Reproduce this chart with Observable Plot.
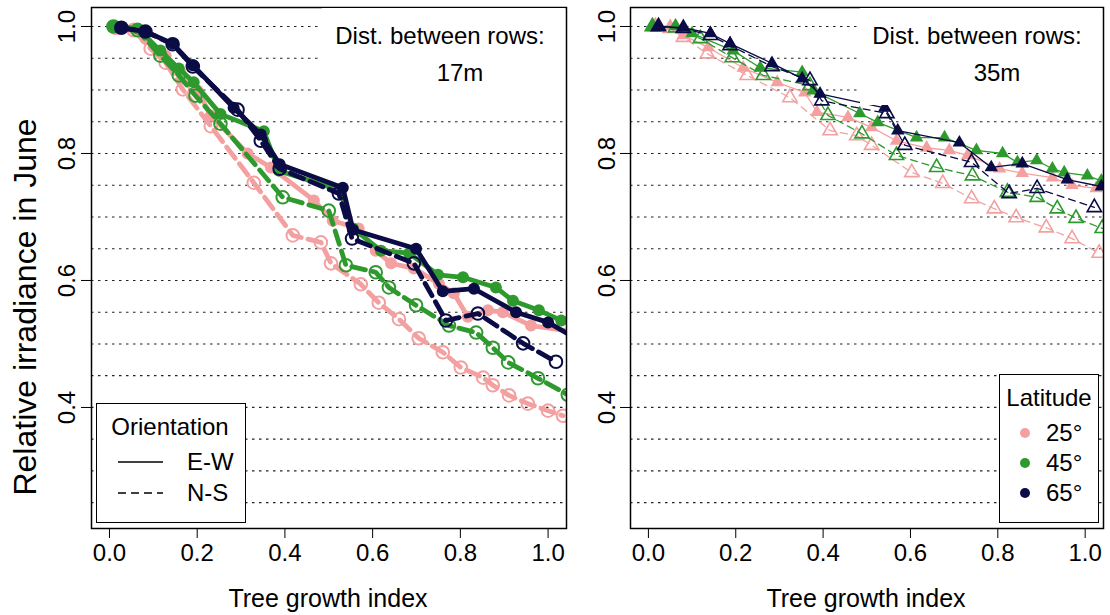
<!DOCTYPE html>
<html>
<head>
<meta charset="utf-8">
<script src="https://cdn.jsdelivr.net/npm/d3@7"></script>
<script src="https://cdn.jsdelivr.net/npm/@observablehq/plot@0.6"></script>
<style>
  body { margin: 0; background: #fff; }
  #wrap { position: relative; width: 1110px; height: 615px; overflow: hidden; background: #fff;
          font-family: "Liberation Sans", Arial, Helvetica, sans-serif; color: #000; }
  #wrap > svg { position: absolute; top: 0; }
  .t { position: absolute; white-space: nowrap; line-height: 1; transform: translate(-50%, -50%); }
  .tl { position: absolute; white-space: nowrap; line-height: 1; transform: translate(0, -50%); }
  .white { position: absolute; background: #fff; }
  .legend { position: absolute; background: #fff; border: 1.5px solid #000; box-sizing: border-box; }
  g[aria-label^="x-axis"] line, g[aria-label^="y-axis"] line { stroke-width: 1.5; }
</style>
</head>
<body>
<div id="wrap"></div>
<script>
// ---------- data ----------
const LATITUDES = [25, 45, 65];
const LAT_LABELS = ["25°", "45°", "65°"];
const LAT_COLORS = ["#f4a0a0", "#2e9a2e", "#0b0b45"];
const ORIENTATIONS = ["E-W", "N-S"];
const PANELS = ["17m", "35m"];
const X_TICKS = [0, 0.2, 0.4, 0.6, 0.8, 1.0];
const Y_TICKS = [0.4, 0.6, 0.8, 1.0];
const GRID_VALUES = [0.25, 0.30, 0.35, 0.40, 0.45, 0.50, 0.55, 0.60, 0.65, 0.70, 0.75, 0.80, 0.85, 0.90, 0.95, 1.00];

// 17 m between rows
const d17_25_EW_x = [0.014,0.055,0.082,0.128,0.162,0.201,0.231,0.315,0.368,0.466,0.509,0.568,0.607,0.642,0.694,0.751,0.785,0.817,0.863,0.897,0.961,1.07];
const d17_25_EW_y = [0.998,0.997,0.981,0.954,0.928,0.899,0.860,0.800,0.778,0.726,0.694,0.682,0.647,0.627,0.619,0.595,0.580,0.543,0.553,0.550,0.529,0.518];
const d17_25_NS_x = [0.014,0.055,0.094,0.128,0.167,0.231,0.329,0.418,0.482,0.505,0.573,0.614,0.660,0.705,0.760,0.801,0.852,0.874,0.911,0.954,1.000,1.034];
const d17_25_NS_y = [0.998,0.994,0.965,0.943,0.901,0.843,0.754,0.671,0.660,0.627,0.594,0.565,0.539,0.509,0.487,0.463,0.447,0.435,0.419,0.406,0.395,0.387];
const d17_45_EW_x = [0.009,0.064,0.116,0.158,0.192,0.253,0.352,0.386,0.525,0.555,0.619,0.683,0.749,0.806,0.881,0.920,0.979,1.030];
const d17_45_EW_y = [1.000,0.997,0.962,0.934,0.912,0.862,0.835,0.773,0.742,0.682,0.647,0.643,0.609,0.605,0.589,0.568,0.553,0.537];
const d17_45_NS_x = [0.009,0.064,0.116,0.158,0.196,0.253,0.395,0.500,0.539,0.607,0.637,0.699,0.774,0.836,0.874,0.909,0.977,1.045];
const d17_45_NS_y = [1.000,0.994,0.954,0.923,0.891,0.847,0.731,0.710,0.624,0.613,0.589,0.561,0.529,0.518,0.494,0.471,0.446,0.420];
const d17_65_EW_x = [0.027,0.082,0.144,0.190,0.283,0.345,0.388,0.532,0.555,0.699,0.760,0.831,0.927,1.000,1.07];
const d17_65_EW_y = [0.998,0.992,0.973,0.939,0.872,0.830,0.783,0.746,0.680,0.650,0.583,0.587,0.550,0.534,0.506];
const d17_65_NS_x = [0.027,0.082,0.144,0.190,0.292,0.345,0.388,0.523,0.553,0.694,0.767,0.840,0.943,1.018];
const d17_65_NS_y = [0.998,0.992,0.972,0.937,0.869,0.820,0.776,0.737,0.666,0.627,0.537,0.548,0.501,0.472];

// 35 m between rows
const d35_25_EW_x = [0.016,0.050,0.080,0.137,0.217,0.295,0.358,0.386,0.457,0.511,0.568,0.637,0.689,0.731,0.804,0.856,0.925,0.970,1.025];
const d35_25_EW_y = [1.000,1.000,0.986,0.967,0.935,0.912,0.896,0.865,0.857,0.841,0.820,0.809,0.805,0.797,0.776,0.769,0.762,0.750,0.745];
const d35_25_NS_x = [0.016,0.050,0.080,0.135,0.226,0.324,0.416,0.477,0.511,0.603,0.674,0.740,0.792,0.842,0.911,0.970,1.032];
const d35_25_NS_y = [1.000,0.997,0.983,0.957,0.923,0.888,0.836,0.828,0.813,0.770,0.753,0.729,0.713,0.699,0.683,0.666,0.643];
const d35_45_EW_x = [0.009,0.062,0.100,0.194,0.256,0.352,0.377,0.484,0.525,0.614,0.678,0.751,0.811,0.845,0.889,0.925,0.952,1.005,1.037];
const d35_45_EW_y = [1.000,1.000,0.989,0.962,0.935,0.928,0.899,0.863,0.849,0.825,0.825,0.805,0.800,0.786,0.789,0.776,0.770,0.765,0.757];
const d35_45_NS_x = [0.009,0.062,0.119,0.192,0.263,0.370,0.411,0.489,0.568,0.660,0.742,0.822,0.890,0.936,0.979,1.039];
const d35_45_NS_y = [1.000,0.998,0.981,0.951,0.923,0.907,0.860,0.831,0.797,0.778,0.765,0.739,0.731,0.713,0.698,0.682];
const d35_65_EW_x = [0.023,0.080,0.142,0.187,0.283,0.352,0.393,0.541,0.571,0.712,0.785,0.856,0.959,1.037];
const d35_65_EW_y = [1.000,0.998,0.989,0.973,0.942,0.918,0.894,0.872,0.836,0.817,0.778,0.784,0.759,0.748];
const d35_65_NS_x = [0.023,0.080,0.142,0.187,0.283,0.370,0.397,0.546,0.587,0.740,0.826,0.890,1.021];
const d35_65_NS_y = [1.000,0.997,0.986,0.970,0.937,0.915,0.883,0.863,0.813,0.786,0.737,0.745,0.715];

// ---------- table ----------
const SERIES = {
  "17m": {
    25: {"E-W": [d17_25_EW_x, d17_25_EW_y], "N-S": [d17_25_NS_x, d17_25_NS_y]},
    45: {"E-W": [d17_45_EW_x, d17_45_EW_y], "N-S": [d17_45_NS_x, d17_45_NS_y]},
    65: {"E-W": [d17_65_EW_x, d17_65_EW_y], "N-S": [d17_65_NS_x, d17_65_NS_y]}
  },
  "35m": {
    25: {"E-W": [d35_25_EW_x, d35_25_EW_y], "N-S": [d35_25_NS_x, d35_25_NS_y]},
    45: {"E-W": [d35_45_EW_x, d35_45_EW_y], "N-S": [d35_45_NS_x, d35_45_NS_y]},
    65: {"E-W": [d35_65_EW_x, d35_65_EW_y], "N-S": [d35_65_NS_x, d35_65_NS_y]}
  }
};
function rows(panel, lat, orient) {
  const [xs, ys] = SERIES[panel][lat][orient];
  return xs.map((x, i) => ({panel, lat, orient, x, y: ys[i]}));
}

const X_DOMAIN = [-0.041, 1.042];
const Y_DOMAIN = [0.2094, 1.0299];
const fmt = d3.format(".1f");
const FONT = "'Liberation Sans', Arial, Helvetica, sans-serif";

function panelPlot(panel, cfg) {
  const marks = [
    Plot.ruleY(GRID_VALUES, {stroke: "#222", strokeWidth: 1.2, strokeDasharray: "2.5,4.5"})
  ];
  LATITUDES.forEach((lat) => {
    const ew = rows(panel, lat, "E-W");
    const ns = rows(panel, lat, "N-S");
    marks.push(
      Plot.line(ew, {x: "x", y: "y", stroke: "lat", strokeWidth: cfg.lineW, clip: true}),
      Plot.line(ns, {x: "x", y: "y", stroke: "lat", strokeWidth: cfg.lineW, strokeDasharray: cfg.dash, clip: true}),
      Plot.dot(ew, {x: "x", y: "y", fill: "lat", stroke: "none", r: cfg.r, symbol: cfg.symbol, clip: true}),
      Plot.dot(ns, {x: "x", y: "y", stroke: "lat", fill: "none", strokeWidth: cfg.openW, r: cfg.r + 0.3, symbol: cfg.symbol, clip: true})
    );
  });
  marks.push(
    Plot.text(Y_TICKS, {y: d => d, text: d => fmt(d), frameAnchor: "left", textAnchor: "middle", lineAnchor: "middle", dx: cfg.ylabDx, rotate: -90, fontSize: 24}),
    Plot.frame({stroke: "#000", strokeWidth: 1.5})
  );
  return Plot.plot({
    width: cfg.width,
    height: 615,
    marginLeft: cfg.marginLeft,
    marginRight: cfg.marginRight,
    marginTop: 7,
    marginBottom: 87,
    style: {fontFamily: FONT, fontSize: "24px", color: "#000", background: "transparent", overflow: "visible"},
    x: {domain: X_DOMAIN, ticks: X_TICKS, tickFormat: fmt, tickSize: 10, tickPadding: 5, label: null},
    y: {domain: Y_DOMAIN, ticks: Y_TICKS, tickFormat: () => "", tickSize: 10, label: null},
    color: {type: "ordinal", domain: LATITUDES, range: LAT_COLORS},
    marks
  });
}

const wrap = document.getElementById("wrap");

const left = panelPlot("17m", {width: 580, marginLeft: 91, marginRight: 14, lineW: 4.8, dash: "14,7", r: 6, openW: 2, symbol: "circle", ylabDx: -24});
left.style.left = "0px";
wrap.appendChild(left);

const right = panelPlot("35m", {width: 530, marginLeft: 50, marginRight: 7, lineW: 1.3, dash: "7,5", r: 5, openW: 1.6, symbol: "triangle", ylabDx: -23});
right.style.left = "580px";
wrap.appendChild(right);

// ---------- annotations (HTML overlays) ----------
function el(cls, css, html) {
  const d = document.createElement("div");
  d.className = cls;
  d.style.cssText = css;
  if (html != null) d.innerHTML = html;
  wrap.appendChild(d);
  return d;
}
// white boxes behind the "Dist. between rows" notes
el("white", "left:322px;top:8px;width:243px;height:97px;");
el("white", "left:860px;top:8px;width:242px;height:97px;");
el("t", "left:440px;top:36px;font-size:24px;", "Dist. between rows:");
el("t", "left:460px;top:73px;font-size:24px;", PANELS[0]);
el("t", "left:977px;top:36px;font-size:24px;", "Dist. between rows:");
el("t", "left:997px;top:73px;font-size:24px;", PANELS[1]);

// axis titles
el("t", "left:328px;top:598px;font-size:25px;", "Tree growth index");
el("t", "left:866px;top:598px;font-size:25px;", "Tree growth index");
el("t", "left:25px;top:307px;font-size:32px;transform:translate(-50%,-50%) rotate(-90deg);", "Relative irradiance in June");

// Orientation legend
el("legend", "left:96px;top:403px;width:150px;height:120px;");
el("t", "left:170px;top:427px;font-size:24px;", "Orientation");
const ls = `<svg width="50" height="40" style="position:absolute;left:116px;top:443px;overflow:visible">
  <line x1="2" x2="47" y1="19" y2="19" stroke="#000" stroke-width="1.4"/>
  <line x1="2" x2="47" y1="50" y2="50" stroke="#000" stroke-width="1.4" stroke-dasharray="8,5"/></svg>`;
wrap.insertAdjacentHTML("beforeend", ls);
el("tl", "left:187px;top:462px;font-size:24px;", ORIENTATIONS[0]);
el("tl", "left:187px;top:493px;font-size:24px;", ORIENTATIONS[1]);

// Latitude legend
el("legend", "left:999px;top:374px;width:100px;height:149px;");
el("t", "left:1049px;top:398px;font-size:24px;", "Latitude");
LATITUDES.forEach((lat, i) => {
  const y = 433 + i * 30;
  wrap.insertAdjacentHTML("beforeend",
    `<svg width="12" height="12" style="position:absolute;left:${1025 - 6}px;top:${y - 6}px"><circle cx="6" cy="6" r="5" fill="${LAT_COLORS[i]}"/></svg>`);
  el("tl", `left:1046px;top:${y}px;font-size:24px;`, LAT_LABELS[i]);
});
</script>
</body>
</html>
